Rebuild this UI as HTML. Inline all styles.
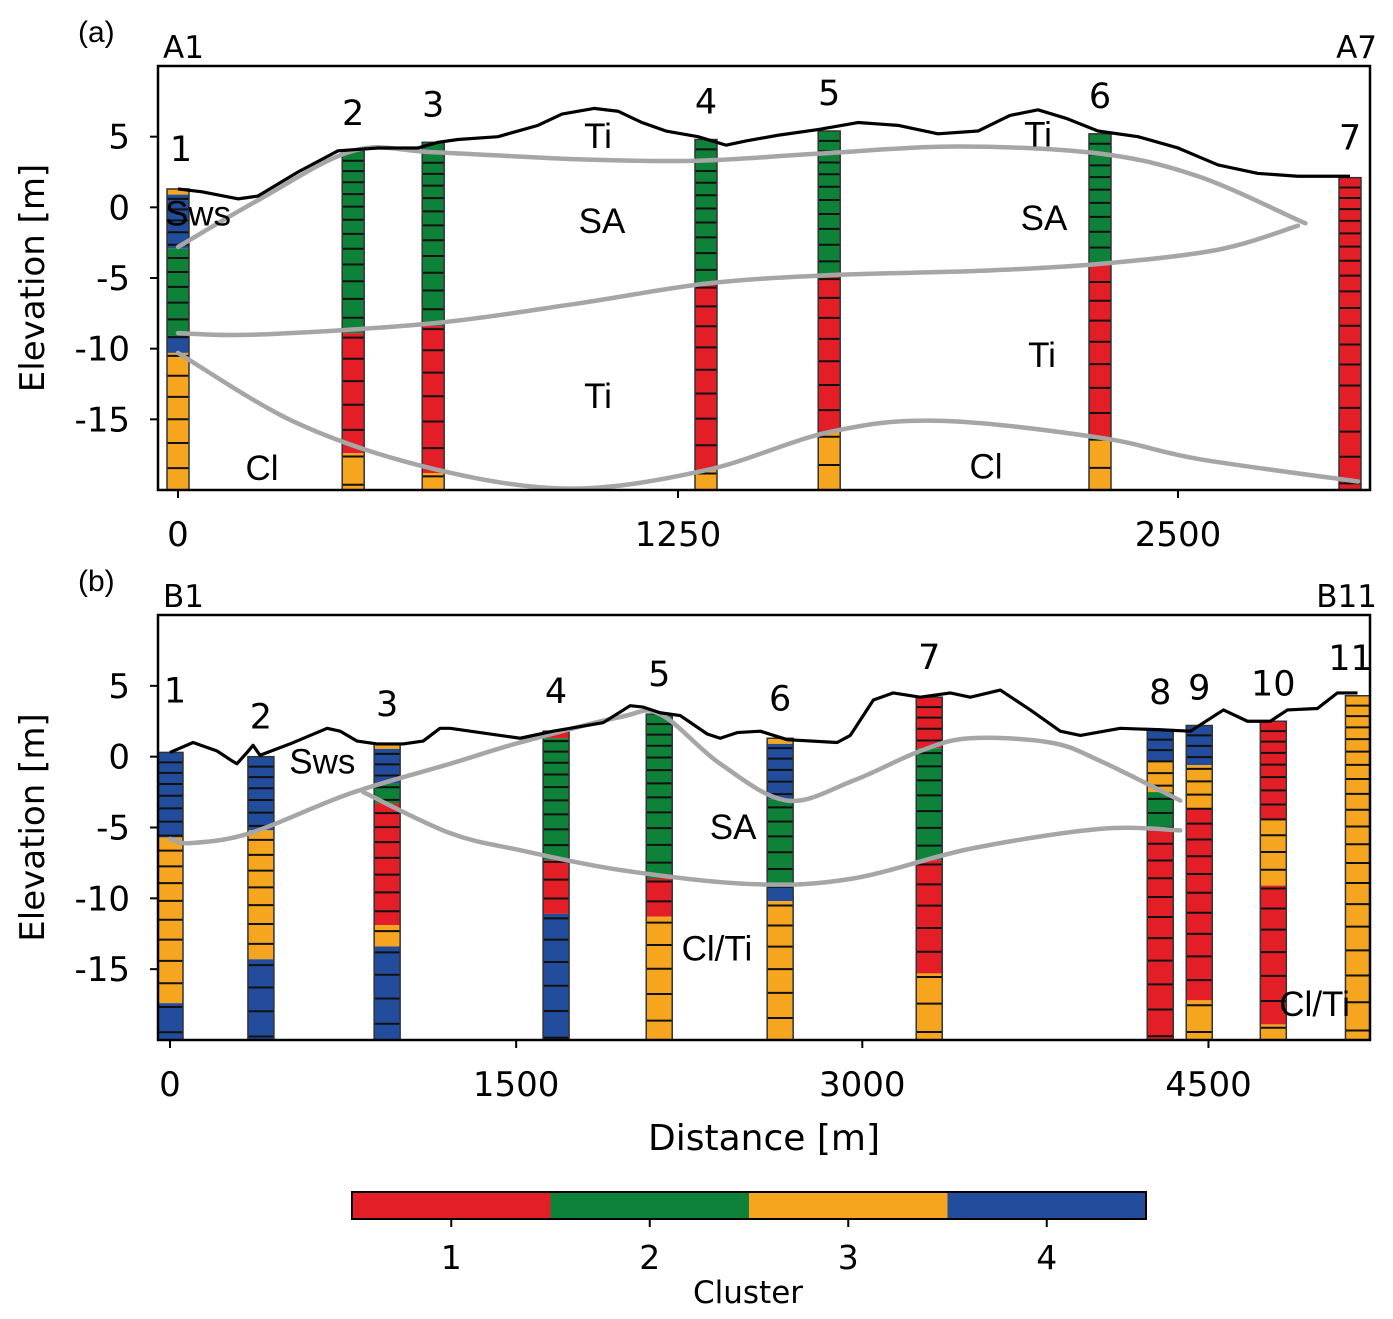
<!DOCTYPE html>
<html><head><meta charset="utf-8">
<style>
body{margin:0;background:#fff;}
svg{display:block;font-family:"DejaVu Sans","Liberation Sans",sans-serif;}
</style></head>
<body>
<svg id="chart" width="1393" height="1319" viewBox="0 0 1393 1319"></svg>
<script>
// ---------- DATA ----------
const clusterColors = ["#e41e26","#0e8238","#f5a51e","#214d9c"];
const aNames = ["1","2","3","4","5","6","7"];
const aDist = [0,438,638,1320,1628,2305,2930];
const aTop = [1.3,4.0,4.6,4.8,5.4,5.2,2.1];
const aSegBottoms = [[0.9,-2.9,-9.1,-10.3,-20],[-8.9,-17.4,-20],[-8.4,-18.8,-20],[-5.4,-18.6,-20],[-4.8,-15.9,-20],[-3.9,-16.3,-20],[-20]];
const aSegClusters = [[3,4,2,4,3],[2,1,3],[2,1,3],[2,1,3],[2,1,3],[2,1,3],[1]];
const aTerrainX = [0,60,150,200,300,400,500,600,650,700,800,900,960,1040,1100,1160,1220,1300,1370,1420,1500,1600,1700,1800,1900,2000,2080,2150,2220,2300,2400,2500,2600,2700,2800,2930];
const aTerrainZ = [1.3,1.1,0.6,0.8,2.5,4.0,4.2,4.2,4.6,4.8,5.0,5.8,6.6,7.0,6.8,6.0,5.4,5.0,4.4,4.7,5.1,5.5,6.0,5.8,5.2,5.4,6.5,6.9,6.3,5.4,5.0,4.2,3.0,2.4,2.2,2.2];
const aSAtopX = [0,200,438,638,1000,1300,1600,1950,2305,2550,2800,2800];
const aSAtopZ = [-2.8,0.5,4.0,3.9,3.4,3.3,3.8,4.3,3.8,2.2,-0.9,-0.9];
const aSAbotX = [0,200,638,1000,1320,1628,2000,2305,2600,2800];
const aSAbotZ = [-8.9,-9.0,-8.2,-6.8,-5.4,-4.8,-4.5,-4.0,-3.0,-1.3];
const aClX = [0,300,638,980,1320,1628,1900,2305,2550,2950];
const aClZ = [-10.3,-15.3,-18.5,-19.9,-18.6,-15.9,-15.1,-16.3,-17.8,-19.4];
const bNames = ["1","2","3","4","5","6","7","8","9","10","11"];
const bDist = [0,394,941,1673,2120,2644,3290,4291,4460,4781,5150];
const bTop = [0.3,0.0,0.9,1.8,3.0,1.3,4.2,1.9,2.2,2.5,4.3];
const bSegBottoms = [[-5.7,-17.4,-20],[-5.2,-14.3,-20],[0.55,-1.9,-3.3,-11.9,-13.4,-20],[1.3,-7.3,-11.1,-20],[-8.6,-11.3,-20],[0.9,-3.0,-9.0,-10.2,-20],[0.6,-7.3,-15.3,-20],[-0.3,-2.5,-5.1,-20],[-0.6,-3.7,-17.2,-20],[-4.5,-9.1,-18.9,-20],[-20]];
const bSegClusters = [[4,3,4],[4,3,4],[3,4,2,1,3,4],[1,2,1,4],[2,1,3],[3,4,2,4,3],[1,2,1,3],[4,3,2,1],[4,3,1,3],[1,3,1,3],[3]];
const bTerrainX = [0,100,204,269,290,334,360,390,520,681,737,811,897,1010,1097,1170,1214,1517,1660,1877,1994,2050,2124,2211,2328,2384,2458,2558,2675,2891,2948,3048,3134,3251,3381,3468,3598,3728,3858,3945,4118,4291,4422,4565,4669,4768,4842,4972,5059,5146];
const bTerrainZ = [0.3,1.0,0.4,-0.3,-0.5,0.3,0.8,0.1,0.9,2.0,1.8,1.1,0.9,0.9,1.1,2.0,2.0,1.3,1.8,2.4,3.6,3.5,3.1,2.9,1.6,1.3,1.7,1.8,1.2,1.0,1.5,4.0,4.5,4.2,4.5,4.2,4.7,3.3,1.8,1.5,2.0,1.9,1.8,3.3,2.5,2.5,3.3,3.4,4.5,4.5];
const bSwsX = [0,87,347,780,1214,1517,1951,2124,2384,2674,2960,3251,3468,3814,4031,4378];
const bSwsZ = [-5.8,-6.1,-5.4,-2.6,-0.5,1.0,2.8,3.0,-0.5,-3.1,-1.7,0.4,1.3,1.0,-0.3,-3.1];
const bSAbotX = [837,1214,1517,1951,2527,2960,3468,4031,4378];
const bSAbotZ = [-2.5,-5.4,-6.6,-8.0,-9.0,-8.6,-6.5,-5.1,-5.2];
const aTicks = [0,1250,2500];
const bTicks = [0,1500,3000,4500];
const yTicks = [5,0,-5,-10,-15];
const cbTicks = ["1","2","3","4"];

// ---------- RENDER ----------
const NS="http://www.w3.org/2000/svg";
const svg=document.getElementById("chart");
function mk(tag,attrs,parent){const e=document.createElementNS(NS,tag);for(const k in attrs)e.setAttribute(k,attrs[k]);(parent||svg).appendChild(e);return e;}
function txt(s,x,y,size,anchor,parent){const t=mk("text",{x:x,y:y,"font-size":size,"text-anchor":anchor||"middle",fill:"#000"},parent);t.textContent=s;return t;}

function panel(P){
  const g=mk("g",{});
  
  
  const sx=d=>P.x0+(d-P.xmin)/(P.xmax-P.xmin)*(P.x1-P.x0);
  const sy=z=>P.y1-(z-P.ymin)/(P.ymax-P.ymin)*(P.y1-P.y0);
  const clipId=P.name+"-clip";
  const cp=mk("clipPath",{id:clipId},g);
  mk("rect",{x:P.x0,y:P.y0,width:P.x1-P.x0,height:P.y1-P.y0},cp);
  P.dist.forEach((d,i)=>{
    const bg=mk("g",{"clip-path":"url(#"+clipId+")"},g);
    
    
    const cx=sx(d),w=P.colW;
    let top=P.top[i];
    P.segB[i].forEach((b,j)=>{
      const r=mk("rect",{x:cx-w/2,y:sy(top),width:w,height:sy(b)-sy(top),fill:clusterColors[P.segC[i][j]-1]},bg);
      
      
      top=b;
    });
    let z=P.top[i],t=0.7;
    while(true){z-=t;t*=1.06;if(z<=P.ymin)break;
      mk("line",{x1:cx-w/2,x2:cx+w/2,y1:sy(z),y2:sy(z),stroke:"#111","stroke-width":2},bg);}
    mk("rect",{x:cx-w/2,y:sy(P.top[i]),width:w,height:sy(P.ymin)-sy(P.top[i]),fill:"none",stroke:"#333","stroke-width":1.5},bg);
    const lab=txt(P.names[i],cx+(P.labDx?P.labDx[i]:0),sy(P.top[i])-P.labOff[i],35,"middle",g);
    
    
  });
  const smooth=(X,Z)=>{const pts=X.map((x,i)=>[sx(x),sy(Z[i])]);let d="M"+pts[0][0]+","+pts[0][1];
    for(let i=1;i<pts.length;i++){const p0=pts[i-2]||pts[i-1],p1=pts[i-1],p2=pts[i],p3=pts[i+1]||p2;
      d+=" C"+(p1[0]+(p2[0]-p0[0])/6)+","+(p1[1]+(p2[1]-p0[1])/6)+" "+(p2[0]-(p3[0]-p1[0])/6)+","+(p2[1]-(p3[1]-p1[1])/6)+" "+p2[0]+","+p2[1];}return d;};
  P.bounds.forEach((b,k)=>{const p=mk("path",{d:smooth(b[0],b[1]),fill:"none",stroke:"#a6a6a6","stroke-width":4.5,"stroke-linecap":"round","clip-path":"url(#"+clipId+")"},g);
    
    });
  const tp=mk("path",{d:P.terrX.map((x,i)=>(i?"L":"M")+sx(x)+","+sy(P.terrZ[i])).join(" "),fill:"none",stroke:"#000","stroke-width":3.2,"stroke-linejoin":"round"},g);
  
  
  P.units.forEach(u=>{const t=txt(u[0],sx(u[1]),sy(u[2]),35,"middle",g);
    t.setAttribute('font-family','"Liberation Sans",sans-serif');
    
    });
  const fr=mk("rect",{x:P.x0,y:P.y0,width:P.x1-P.x0,height:P.y1-P.y0,fill:"none",stroke:"#000","stroke-width":2.5},g);
  
  
  yTicks.forEach(v=>{mk("line",{x1:P.x0-8,x2:P.x0,y1:sy(v),y2:sy(v),stroke:"#000","stroke-width":2},g);
    const t=txt(String(v),P.x0-28,sy(v)+12,34,"end",g);
    
    });
  P.xt.forEach(v=>{mk("line",{x1:sx(v),x2:sx(v),y1:P.y1,y2:P.y1+8,stroke:"#000","stroke-width":2},g);
    const t=txt(String(v),sx(v),P.y1+56,34,"middle",g);
    
    });
  const yl=txt("Elevation [m]",0,0,34,"middle",g);
  yl.setAttribute("transform","translate(44,"+((P.y0+P.y1)/2)+") rotate(-90)");
  
  
  const pl=txt(P.tag,78,P.y0-24,30,"start",g);
  pl.setAttribute('font-family','"Liberation Sans",sans-serif');
  
  
  const s1=txt(P.ends[0],163,P.y0-8,31,"start",g);
  
  
  const s2=txt(P.ends[1],1377,P.y0-8,31,"end",g);
  
  
}

panel({name:"panel-a",x0:158,x1:1370,xmin:-50,xmax:2980,y0:66,y1:490,ymin:-20,ymax:10,colW:22,
  names:aNames,dist:aDist,top:aTop,segB:aSegBottoms,segC:aSegClusters,labOff:[28,26,26,26,26,26,28],labDx:[3,0,0,0,0,0,0],
  terrX:aTerrainX,terrZ:aTerrainZ,bounds:[[aSAtopX,aSAtopZ],[aSAbotX,aSAbotZ],[aClX,aClZ]],
  units:[["Sws",50,-1.3],["SA",1060,-1.8],["SA",2165,-1.6],["Ti",1050,4.2],["Ti",2150,4.3],["Ti",1050,-14.2],["Ti",2160,-11.3],["Cl",210,-19.3],["Cl",2020,-19.2]],
  xt:aTicks,tag:"(a)",ends:["A1","A7"]});
panel({name:"panel-b",x0:158,x1:1370,xmin:-52,xmax:5200,y0:615,y1:1040,ymin:-20,ymax:10,colW:26,
  names:bNames,dist:bDist,top:bTop,segB:bSegBottoms,segC:bSegClusters,labOff:[50,28,28,28,28,28,28,26,26,26,26],labDx:[5,0,0,0,0,0,0,0,0,0,-8],
  terrX:bTerrainX,terrZ:bTerrainZ,bounds:[[bSwsX,bSwsZ],[bSAbotX,bSAbotZ]],
  units:[["Sws",660,-1.2],["SA",2440,-5.8],["Cl/Ti",2370,-14.4],["Cl/Ti",4960,-18.3]],
  xt:bTicks,tag:"(b)",ends:["B1","B11"]});

const xl=txt("Distance [m]",764,1150,36,"middle");



const cb=mk("g",{});


const cbx0=352,cbx1=1146,cbw=(cbx1-cbx0)/cbTicks.length;
cbTicks.forEach((c,i)=>{
  const r=mk("rect",{x:cbx0+i*cbw,y:1192,width:cbw,height:27,fill:clusterColors[i]},cb);
  
  
  const cx=cbx0+(i+0.5)*cbw;
  mk("line",{x1:cx,x2:cx,y1:1219,y2:1227,stroke:"#000","stroke-width":2},cb);
  const t=txt(c,cx,1269,33,"middle",cb);
  
  
});
mk("rect",{x:cbx0,y:1192,width:cbx1-cbx0,height:27,fill:"none",stroke:"#000","stroke-width":2},cb);
const ct=txt("Cluster",748,1303,31,"middle",cb);


</script>
</body></html>
